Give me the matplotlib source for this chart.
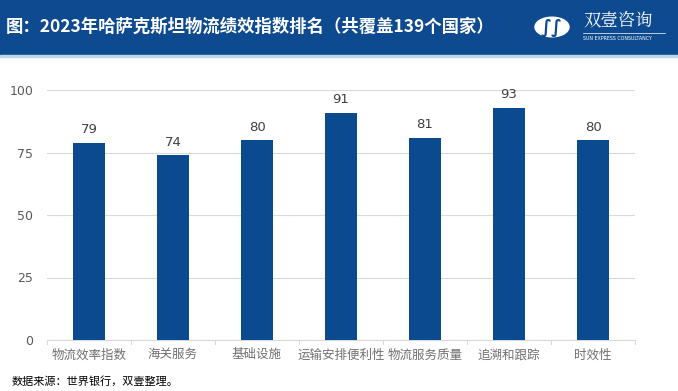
import matplotlib
matplotlib.use("Agg")
import matplotlib.pyplot as plt
from matplotlib.patches import Rectangle, Circle

plt.rcParams['font.family'] = ['Noto Sans CJK SC', 'DejaVu Sans']

# ---- data ----
categories = ["物流效率指数", "海关服务", "基础设施", "运输安排便利性", "物流服务质量", "追溯和跟踪", "时效性"]
scores = [79, 74, 80, 91, 81, 93, 80]
yticks = [0, 25, 50, 75, 100]

title = "图：2023年哈萨克斯坦物流绩效指数排名（共覆盖139个国家）"
source = "数据来源：世界银行，双壹整理。"
BLUE = "#0B4A8E"
HEADER = "#0D4A90"

fig = plt.figure(figsize=(6.78, 3.91), dpi=100)
W, H = 678, 391

# header band
fig.patches.append(Rectangle((0, 1 - 55 / H), 1, 55 / H, transform=fig.transFigure,
                             color=HEADER, zorder=0))
fig.patches.append(Rectangle((0, 1 - 57 / H), 1, 1.5 / H, transform=fig.transFigure,
                             color="#BCD6EA", zorder=0))
fig.text(6 / W, 1 - 27 / H, title, color="white", fontsize=12.5, fontweight="bold",
         va="center", ha="left")
# logo
fig.patches.append(Circle((552 / W, 1 - 27 / H), 17 / W, transform=fig.transFigure,
                          color="white", zorder=1))
fig.text(552 / W, 1 - 28 / H, "∫∫", color=HEADER, fontsize=13, fontweight="bold",
         va="center", ha="center", zorder=2, family="DejaVu Sans")
fig.text(583 / W, 1 - 21 / H, "双壹咨询", color="white", fontsize=12.5, va="center",
         ha="left", family=["Noto Serif CJK SC", "Noto Sans CJK SC"])
fig.lines.append(plt.Line2D([583 / W, 665 / W], [1 - 33 / H, 1 - 33 / H],
                            transform=fig.transFigure, color="white", lw=0.5))
fig.text(583 / W, 1 - 39 / H, "SUN EXPRESS CONSULTANCY", color="white", fontsize=3.4,
         va="center", ha="left", family="DejaVu Sans")

ax = fig.add_axes([47 / W, 1 - 340 / H, (635 - 47) / W, 250 / H])
x = range(len(categories))
bars = ax.bar(x, scores, width=0.38, color=BLUE, zorder=3)
for xi, v in zip(x, scores):
    ax.text(xi, v + 2.5, str(v), ha="center", va="bottom", fontsize=9.5, color="#404040",
            family="DejaVu Sans")

ax.set_ylim(0, 100)
ax.set_xlim(-0.5, len(categories) - 0.5)
ax.set_yticks(yticks)
ax.set_yticklabels([str(t) for t in yticks], fontsize=9, color="#595959", family="DejaVu Sans")
ax.set_xticks(list(x))
ax.set_xticklabels(categories, fontsize=9, color="#707070")
ax.tick_params(axis="y", length=0, pad=10)
ax.tick_params(axis="x", length=0, pad=6)
ax.grid(axis="y", color="#D9D9D9", lw=0.8, zorder=0)
for s in ["top", "right", "left"]:
    ax.spines[s].set_visible(False)
ax.spines["bottom"].set_color("#D9D9D9")
# minor separators between categories
for b in [i - 0.5 for i in range(len(categories) + 1)]:
    ax.plot([b, b], [0, -1.5], color="#D9D9D9", lw=0.8, clip_on=False)

fig.text(12 / W, 1 - 381 / H, source, fontsize=8, color="black", va="center", ha="left")

fig.savefig("out.png", dpi=100)
